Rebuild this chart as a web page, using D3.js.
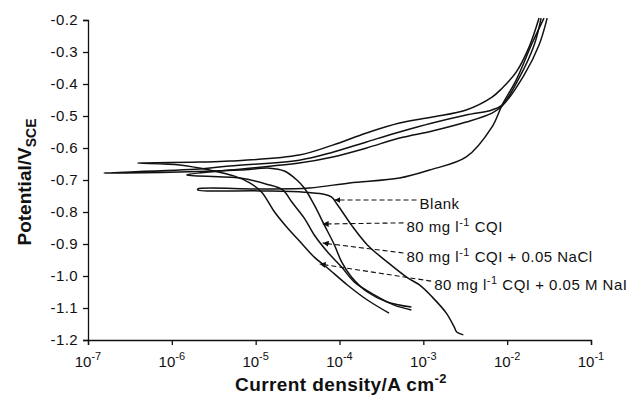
<!DOCTYPE html>
<html>
<head>
<meta charset="utf-8">
<script src="https://cdn.jsdelivr.net/npm/d3@7"></script>
<style>
  body { margin: 0; background: #fff; }
  svg { display: block; font-family: "Liberation Sans", Arial, sans-serif; }
</style>
</head>
<body>
<script>
// polarisation curves: current density (A cm-2) and potential (V vs SCE)
// each list runs from the end of the cathodic branch, through Ecorr, up the anodic branch
const blankI = [3.0e-3, 2.5e-3, 2.34e-3, 1.88e-3, 1.28e-3, 9.0e-4, 6.5e-4, 3.7e-4, 2.15e-4, 1.39e-4, 9.5e-5, 8.0e-5, 6.3e-5, 3.8e-5, 1.12e-5, 2.04e-6,
                2.04e-6, 1.12e-5, 4.4e-5, 1.32e-4, 5.2e-4, 1.18e-3, 3.25e-3, 6.6e-3, 8.7e-3, 1.28e-2, 1.99e-2, 2.75e-2];
const blankE = [-1.184, -1.175, -1.16, -1.116, -1.066, -1.028, -1.006, -0.956, -0.903, -0.841, -0.778, -0.753, -0.744, -0.738, -0.734, -0.731,
                -0.728, -0.728, -0.725, -0.709, -0.694, -0.669, -0.628, -0.534, -0.466, -0.388, -0.272, -0.194];

const cqiI = [7.2e-4, 3.7e-4, 2.15e-4, 1.39e-4, 1.06e-4, 8.7e-5, 6.6e-5, 5.0e-5, 3.8e-5, 3.1e-5, 2.2e-5, 1.47e-5, 6.5e-6, 1.24e-6, 1.55e-7,
              2.15e-6, 4.9e-6, 3.3e-5, 8.3e-5, 2.1e-4, 5.2e-4, 1.28e-3, 3.25e-3, 6.6e-3, 8.7e-3, 1.39e-2, 2.1e-2, 2.54e-2];
const cqiE = [-1.097, -1.081, -1.05, -1.003, -0.956, -0.903, -0.841, -0.778, -0.725, -0.7, -0.672, -0.663, -0.669, -0.675, -0.678,
              -0.666, -0.656, -0.638, -0.613, -0.581, -0.55, -0.522, -0.497, -0.481, -0.466, -0.381, -0.278, -0.194];

const naclI = [7.2e-4, 4.5e-4, 2.6e-4, 1.51e-4, 1.06e-4, 7.2e-5, 5.0e-5, 3.8e-5, 2.7e-5, 2.1e-5, 1.35e-5, 6.5e-6, 1.5e-6,
               4.9e-6, 3.3e-5, 8.3e-5, 2.1e-4, 5.2e-4, 1.28e-3, 3.25e-3, 6.6e-3, 8.7e-3, 1.59e-2, 2.4e-2, 3.0e-2];
const naclE = [-1.106, -1.091, -1.059, -1.019, -0.972, -0.925, -0.872, -0.819, -0.769, -0.731, -0.713, -0.694, -0.684,
               -0.669, -0.647, -0.628, -0.6, -0.569, -0.547, -0.519, -0.491, -0.469, -0.372, -0.278, -0.194];

const naiI = [3.9e-4, 2.15e-4, 1.24e-4, 7.2e-5, 5.0e-5, 3.5e-5, 2.4e-5, 1.68e-5, 1.18e-5, 8.5e-6, 5.6e-6, 2.83e-6, 1.24e-6, 3.9e-7,
              2.15e-6, 4.9e-6, 3.3e-5, 8.3e-5, 2.1e-4, 5.2e-4, 1.28e-3, 3.25e-3, 6.6e-3, 8.7e-3, 1.28e-2, 1.83e-2, 2.4e-2];
const naiE = [-1.116, -1.075, -1.028, -0.975, -0.941, -0.897, -0.85, -0.8, -0.738, -0.709, -0.688, -0.669, -0.653, -0.647,
              -0.644, -0.641, -0.622, -0.591, -0.553, -0.522, -0.503, -0.481, -0.441, -0.413, -0.363, -0.284, -0.194];

const yTicks = [-1.2, -1.1, -1.0, -0.9, -0.8, -0.7, -0.6, -0.5, -0.4, -0.3, -0.2];
const xTickExp = [-7, -6, -5, -4, -3, -2, -1];

// labels: text, superscript part, rest, arrow tip (i,E) and tail (i,E)
const labelPre  = ["Blank", "80 mg l", "80 mg l", "80 mg l"];
const labelSup  = ["", "-1", "-1", "-1"];
const labelPost = ["", " CQI", " CQI + 0.05 NaCl", " CQI + 0.05 M NaI"];
const tipI  = [8.7e-5, 6.3e-5, 6.3e-5, 5.8e-5];
const tipE  = [-0.7625, -0.8375, -0.897, -0.9625];
const tailI = [8.3e-4, 5.8e-4, 5.8e-4, 1.24e-3];
const tailE = [-0.7625, -0.834, -0.928, -1.016];

const W = 632, H = 398;
const margin = { top: 20, right: 41, bottom: 58, left: 88 };

const svg = d3.select("body").append("svg")
  .attr("width", W).attr("height", H);

const x = d3.scaleLog().domain([1e-7, 1e-1]).range([margin.left, W - margin.right]);
const y = d3.scaleLinear().domain([-1.2, -0.2]).range([H - margin.bottom, margin.top]);

// axes
const yAxis = svg.append("g")
  .attr("transform", `translate(${margin.left},0)`)
  .call(d3.axisLeft(y).tickValues(yTicks).tickSize(5).tickPadding(5).tickFormat(d => d.toFixed(1)));
const xAxis = svg.append("g")
  .attr("transform", `translate(0,${H - margin.bottom})`)
  .call(d3.axisBottom(x).tickValues(xTickExp.map(e => Math.pow(10, e))).tickSize(5).tickFormat(""));

[yAxis, xAxis].forEach(g => {
  g.select(".domain").attr("stroke", "#111").attr("stroke-width", 1.3);
  g.selectAll(".tick line").attr("stroke", "#111").attr("stroke-width", 1.3);
});
yAxis.selectAll(".tick text")
  .attr("font-size", 15).attr("fill", "#111")
  .attr("letter-spacing", 0.4)
  .attr("font-family", "Liberation Sans, Arial, sans-serif");

const xl = svg.append("g").selectAll("text")
  .data(xTickExp)
  .enter().append("text")
  .attr("x", d => x(Math.pow(10, d)))
  .attr("y", H - margin.bottom + 27)
  .attr("text-anchor", "middle")
  .attr("font-size", 15)
  .attr("fill", "#111");
xl.append("tspan").text("10");
xl.append("tspan").attr("dy", -7).attr("font-size", 11).text(d => d);

// curves
const series = [
  { i: blankI, e: blankE },
  { i: cqiI, e: cqiE },
  { i: naclI, e: naclE },
  { i: naiI, e: naiE },
];
const line = d3.line()
  .x(d => x(d[0]))
  .y(d => y(d[1]))
  .curve(d3.curveCatmullRom.alpha(0.5));

svg.append("g").selectAll("path")
  .data(series)
  .enter().append("path")
  .attr("d", s => line(s.i.map((v, k) => [v, s.e[k]])))
  .attr("fill", "none")
  .attr("stroke", "#111")
  .attr("stroke-width", 1.5)
  .attr("stroke-linejoin", "round");

// dashed leader lines with small arrow heads
svg.append("defs").append("marker")
  .attr("id", "arr")
  .attr("viewBox", "0 0 6 6")
  .attr("refX", 6).attr("refY", 3)
  .attr("markerWidth", 6).attr("markerHeight", 6)
  .attr("markerUnits", "userSpaceOnUse")
  .attr("orient", "auto")
  .append("path").attr("d", "M0,0L6,3L0,6z").attr("fill", "#111");

const lab = labelPre.map((t, k) => ({ k: k }));
svg.append("g").selectAll("line")
  .data(lab)
  .enter().append("line")
  .attr("x1", d => x(tailI[d.k]))
  .attr("y1", d => y(tailE[d.k]))
  .attr("x2", d => x(tipI[d.k]))
  .attr("y2", d => y(tipE[d.k]))
  .attr("stroke", "#111")
  .attr("stroke-width", 1.1)
  .attr("stroke-dasharray", "5,3")
  .attr("marker-end", "url(#arr)");

const lt = svg.append("g").selectAll("text")
  .data(lab)
  .enter().append("text")
  .attr("x", d => x(tailI[d.k]) + 3)
  .attr("y", d => y(tailE[d.k]) + 9)
  .attr("font-size", 15)
  .attr("letter-spacing", 0.5)
  .attr("fill", "#111");
lt.append("tspan").text(d => labelPre[d.k]);
lt.append("tspan").attr("dy", -6).attr("font-size", 11).text(d => labelSup[d.k]);
lt.append("tspan").attr("dy", 6).text(d => labelPost[d.k]);

// axis titles
const xt = svg.append("text")
  .attr("x", 341).attr("y", 391)
  .attr("text-anchor", "middle")
  .attr("letter-spacing", 0.4)
  .attr("font-size", 19).attr("font-weight", "bold").attr("fill", "#111");
xt.append("tspan").text("Current density/A cm");
xt.append("tspan").attr("dy", -8).attr("font-size", 13).text("-2");

const yt = svg.append("text")
  .attr("transform", "translate(31,182) rotate(-90)")
  .attr("text-anchor", "middle")
  .attr("font-size", 19).attr("font-weight", "bold").attr("fill", "#111");
yt.append("tspan").text("Potential/V");
yt.append("tspan").attr("dy", 5).attr("font-size", 14).text("SCE");
</script>
</body>
</html>
